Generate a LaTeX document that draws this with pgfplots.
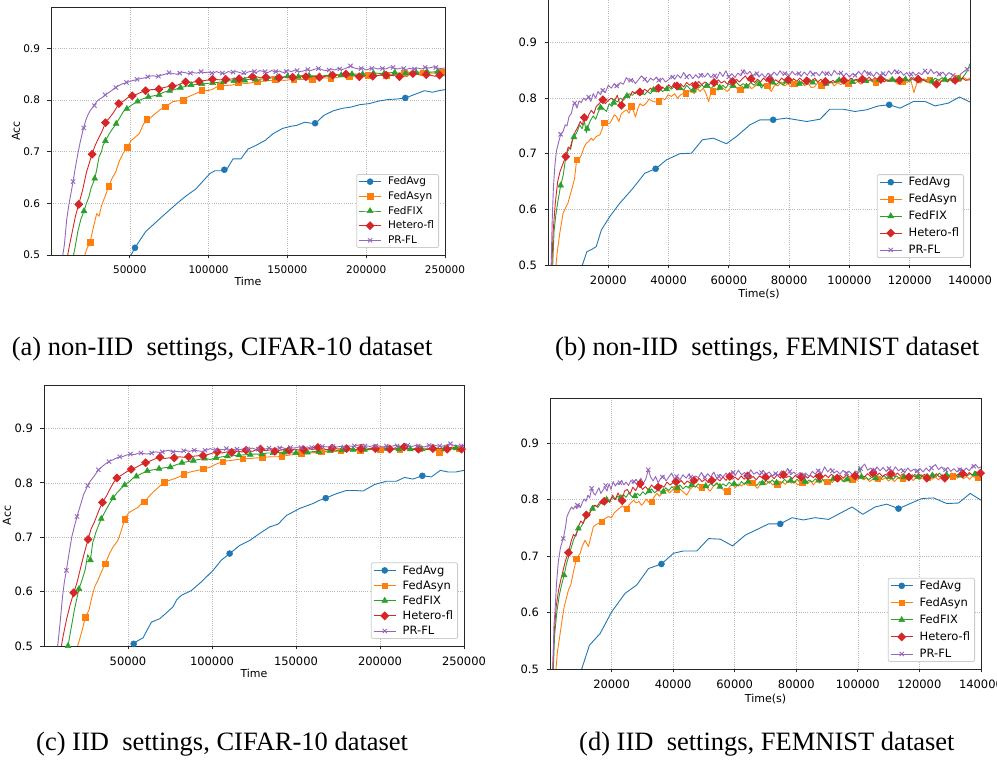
\documentclass[border=0pt]{standalone}
\usepackage{fontspec}
\setmainfont{Liberation Serif}
\newfontfamily\dejavu{DejaVu Sans}
\usepackage{pgfplots}
\pgfplotsset{compat=1.18}

\definecolor{cA}{HTML}{1F77B4}
\definecolor{cB}{HTML}{FF7F0E}
\definecolor{cC}{HTML}{2CA02C}
\definecolor{cD}{HTML}{D62728}
\definecolor{cE}{HTML}{9467BD}

\newcommand\lgt[1]{\vphantom{Afg}#1}

\pgfplotsset{
  base/.style={
    scale only axis, anchor=south west,
    xmin=0, ymin=0.5, ymax=0.98,
    scaled x ticks=false, scaled y ticks=false,
    ytick={0.5,0.6,0.7,0.8,0.9}, yticklabels={0.5,0.6,0.7,0.8,0.9},
    tick align=outside, major tick length=3.5pt,
    xtick pos=bottom, ytick pos=left,
    grid=major,
    grid style={gray!55, line width=0.6pt, dash pattern=on 0.8pt off 1.4pt},
    axis line style={black!85, line width=0.8pt},
    tick style={black!85, line width=0.8pt},
    xticklabel style={yshift=-4pt},
    yticklabel style={xshift=-4pt},
    legend cell align=left,
    legend style={at={(1,0)}, anchor=south east, xshift=-6pt, yshift=7pt,
      draw=black!20, rounded corners=2pt, line width=0.8pt,
      inner xsep=2pt, inner ysep=1.5pt,
      nodes={inner xsep=2.5pt, inner ysep=1pt},
      /tikz/every odd column/.append style={column sep=4pt}},
  },
  fs/.style={tick label style={font=\dejavu\fontsize{#1}{#1}\selectfont},
    legend style={font=\dejavu\fontsize{#1}{#1}\selectfont}},
  xl/.style 2 args={xlabel={#1},
    every axis x label/.style={at={(axis description cs:0.5,0)}, anchor=center,
      yshift=-#2, font=\dejavu\fontsize{11}{11}\selectfont}},
  yl/.style={ylabel={Acc},
    every axis y label/.style={at={([xshift=-#1]axis description cs:0,0.5)}, anchor=center,
      rotate=90, font=\dejavu\fontsize{11}{11}\selectfont}},
  ln/.style={color=#1, line width=0.9pt, line join=round, forget plot},
  mk/.style={color=#1, only marks, line width=0.9pt,
    mark options={solid, fill=#1, line width=0.5pt},
    legend image code/.code={\draw[##1, sharp plot, mark repeat=2, mark phase=2]
      plot coordinates {(0pt,0pt) (11pt,0pt) (22pt,0pt)};}},
  mA/.style={mk=cA, mark=*, mark size=3pt},
  mB/.style={mk=cB, mark=square*, mark size=2.8pt},
  mC/.style={mk=cC, mark=triangle*, mark size=3.4pt},
  mD/.style={mk=cD, mark=square*, mark size=2.7pt, mark options={rotate=45}},
  mE/.style={mk=cE, mark=x, mark size=3pt, mark options={line width=0.9pt}},
}

\begin{document}
\begin{tikzpicture}

%% ---------------- (a) non-IID, CIFAR-10 ----------------
\begin{axis}[base, fs=10.5, at={(51pt,514pt)}, width=394pt, height=248pt,
  xmax=250000, xtick={50000,100000,150000,200000,250000},
  xticklabels={50000,100000,150000,200000,250000},
  xl={Time}{26pt}, yl=35pt,
  legend style={nodes={inner ysep=1pt}, row sep=3.2pt}]
\addplot[ln=cA] coordinates {
(49000,0.49) (53300,0.514) (60000,0.545) (70000,0.573) (80000,0.600) (86000,0.615) (92000,0.628)
(97000,0.645) (101000,0.658) (104000,0.663) (108000,0.663) (112000,0.668) (115500,0.686) (120500,0.686)
(125000,0.705) (130000,0.712) (136000,0.722) (141000,0.735) (147000,0.745) (152000,0.749) (156000,0.751)
(161000,0.757) (165000,0.755) (168000,0.755) (173000,0.770) (179000,0.779) (185000,0.784) (190000,0.786)
(196000,0.791) (202000,0.793) (208000,0.798) (214000,0.801) (220000,0.802) (225000,0.804) (231000,0.811)
(237000,0.818) (242000,0.815) (246000,0.818) (250000,0.820)};
\addplot[mA] coordinates {(53300,0.514) (110000,0.665) (167600,0.755) (224800,0.804)};
\addlegendentry{\lgt{FedAvg}}
\addplot[ln=cB] coordinates {
(20500,0.490) (22500,0.510) (24800,0.525) (27000,0.555) (29000,0.580) (30500,0.575) (32000,0.595)
(34500,0.615) (36600,0.633) (39000,0.650) (41000,0.660) (43500,0.683) (46000,0.698) (48500,0.709)
(51000,0.722) (53500,0.728) (56000,0.735) (58500,0.752) (60700,0.763) (63000,0.765) (65500,0.772)
(68000,0.778) (70000,0.783) (72400,0.787) (75000,0.792) (77500,0.797) (80000,0.798) (84000,0.800)
(87000,0.806) (90000,0.810) (93000,0.814) (95700,0.819) (99000,0.818) (102000,0.820) (105000,0.825)
(107300,0.827) (111000,0.828) (115000,0.829) (119000,0.833) (124000,0.832) (131000,0.835) (137000,0.837)
(142900,0.839) (148000,0.838) (154000,0.840) (160000,0.840) (166600,0.839) (172000,0.843) (178200,0.842)
(184000,0.845) (189900,0.846) (196000,0.846) (201500,0.848) (207000,0.847) (213100,0.848) (219000,0.850)
(224800,0.852) (230000,0.851) (236400,0.853) (242000,0.852) (248000,0.854) (250000,0.855)};
\addplot[mB] coordinates {(24800,0.525) (36600,0.633) (48500,0.709) (60700,0.763) (72400,0.787)
(84000,0.800) (95700,0.819) (107300,0.827) (119000,0.833) (130700,0.835) (142400,0.839) (154100,0.840)
(165800,0.839) (177500,0.842) (189200,0.846) (200900,0.848) (212600,0.848) (224300,0.852) (236000,0.853)
(247700,0.854)};
\addlegendentry{\lgt{FedAsyn}}
\addplot[ln=cC] coordinates {
(13500,0.490) (15000,0.510) (17000,0.545) (19000,0.570) (20950,0.585) (22500,0.600) (24000,0.612)
(25500,0.630) (27700,0.647) (29000,0.665) (30500,0.690) (32000,0.700) (33000,0.712) (34500,0.721)
(36500,0.732) (38500,0.742) (40000,0.748) (41300,0.754) (43500,0.765) (46000,0.778) (48000,0.783)
(51000,0.790) (54800,0.797) (58000,0.802) (61600,0.806) (65000,0.808) (68400,0.810) (71500,0.815)
(75100,0.818) (78500,0.820) (81900,0.824) (85000,0.826) (88700,0.829) (92000,0.830) (95500,0.831)
(99000,0.832) (102200,0.833) (105500,0.834) (109000,0.835) (113000,0.837) (117000,0.837) (121000,0.838)
(126000,0.840) (131000,0.840) (136000,0.841) (141000,0.843) (146000,0.844) (151000,0.846) (156000,0.845)
(161000,0.847) (166000,0.847) (171000,0.846) (176000,0.848) (181000,0.849) (186000,0.848) (191000,0.850)
(196000,0.850) (201000,0.851) (206000,0.852) (211000,0.851) (216000,0.853) (221000,0.852) (226000,0.854)
(231000,0.853) (236000,0.855) (241000,0.854) (246000,0.855) (250000,0.853)};
\addplot[mC] coordinates {(20950,0.585) (27750,0.648) (34550,0.721) (41350,0.754) (48150,0.783)
(54950,0.797) (61750,0.806) (68550,0.810) (75350,0.818) (82150,0.824) (88950,0.829) (95750,0.831)
(102550,0.833) (109350,0.835) (116150,0.837) (122950,0.838) (129750,0.840) (136550,0.841) (143350,0.843)
(150150,0.846) (156950,0.845) (163750,0.847) (170550,0.846) (177350,0.848) (184150,0.848) (190950,0.850)
(197750,0.850) (204550,0.852) (211350,0.851) (218150,0.853) (224950,0.852) (231750,0.853) (238550,0.855)
(245350,0.855)};
\addlegendentry{\lgt{FedFIX}}
\addplot[ln=cD] coordinates {
(10000,0.490) (11500,0.515) (13500,0.545) (15500,0.575) (17600,0.598) (20000,0.625) (22500,0.660)
(24500,0.680) (26000,0.695) (28000,0.712) (30000,0.725) (32500,0.740) (34700,0.757) (37000,0.765)
(39500,0.775) (41500,0.785) (43200,0.793) (46000,0.798) (49000,0.805) (51900,0.808) (55000,0.812)
(58000,0.816) (60300,0.818) (63500,0.820) (66000,0.820) (68800,0.821) (71500,0.824) (74500,0.826)
(77500,0.827) (80500,0.829) (83500,0.833) (86100,0.835) (89500,0.834) (92000,0.836) (94600,0.836)
(98000,0.838) (100500,0.839) (103300,0.840) (107000,0.839) (111700,0.840) (116000,0.841) (120400,0.841)
(124500,0.843) (128900,0.846) (133000,0.843) (137400,0.844) (142000,0.845) (145900,0.843) (150000,0.846)
(154400,0.844) (159000,0.847) (162900,0.845) (167000,0.846) (171300,0.844) (176000,0.847) (179800,0.848)
(184000,0.848) (188300,0.850) (192500,0.848) (196800,0.845) (201000,0.847) (205200,0.846) (209500,0.849)
(213700,0.848) (218000,0.847) (222200,0.845) (226500,0.848) (230700,0.851) (235000,0.848) (239200,0.849)
(243500,0.846) (247700,0.848) (250000,0.847)};
\addplot[mD] coordinates {(17600,0.598) (26080,0.695) (34560,0.756) (43040,0.793) (51520,0.808)
(60000,0.818) (68480,0.821) (76960,0.827) (85440,0.835) (93920,0.836) (102400,0.840) (110880,0.840)
(119360,0.841) (127840,0.845) (136320,0.844) (144800,0.843) (153280,0.844) (161760,0.845) (170240,0.844)
(178720,0.848) (187200,0.850) (195680,0.845) (204160,0.846) (212640,0.848) (221120,0.845) (229600,0.851)
(238080,0.849) (246560,0.848)};
\addlegendentry{\lgt{Hetero-fl}}
\addplot[ln=cE] coordinates {
(7000,0.490) (8500,0.520) (10000,0.570) (11500,0.600) (13000,0.625) (14000,0.642) (15500,0.670)
(17000,0.695) (18500,0.718) (20500,0.744) (22000,0.760) (23500,0.772) (25000,0.780) (27000,0.788)
(29000,0.797) (31000,0.802) (33000,0.806) (35000,0.811) (37500,0.816) (40000,0.822) (42500,0.827)
(45000,0.831) (47500,0.833) (50000,0.836) (52500,0.838) (55000,0.840) (57500,0.842) (60000,0.843)
(62500,0.846) (65000,0.847) (67500,0.845) (70000,0.848) (72500,0.850) (75000,0.853) (77500,0.851)
(80000,0.850) (82500,0.854) (85000,0.853) (87500,0.851) (90000,0.853) (92500,0.852) (95000,0.855)
(97500,0.853) (100000,0.854) (102500,0.851) (105000,0.855) (107500,0.852) (110000,0.851) (112500,0.855)
(115000,0.853) (117500,0.855) (120000,0.853) (122500,0.850) (125000,0.854) (127500,0.856) (130000,0.853)
(132500,0.857) (135000,0.855) (137500,0.853) (140000,0.857) (142500,0.854) (145000,0.856) (147500,0.853)
(150000,0.857) (152500,0.855) (155000,0.858) (157500,0.855) (160000,0.856) (162500,0.859) (165000,0.857)
(167500,0.860) (170000,0.861) (172500,0.858) (175000,0.857) (177500,0.860) (180000,0.858) (182500,0.861)
(185000,0.859) (187500,0.862) (190000,0.866) (192500,0.862) (195000,0.860) (197500,0.862) (200000,0.858)
(202500,0.861) (205000,0.862) (207500,0.860) (210000,0.862) (212500,0.860) (215000,0.864) (217500,0.862)
(220000,0.860) (222500,0.862) (225000,0.859) (227500,0.861) (230000,0.860) (232500,0.862) (235000,0.860)
(237500,0.863) (240000,0.862) (242500,0.864) (245000,0.862) (247500,0.861) (250000,0.862)};
\addplot[mE] coordinates {(14000,0.642) (20770,0.746) (27540,0.789) (34310,0.810) (41080,0.824)
(47850,0.834) (54620,0.840) (61390,0.845) (68160,0.846) (74930,0.853) (81700,0.852) (88470,0.852)
(95240,0.855) (102010,0.852) (108780,0.852) (115550,0.854) (122320,0.853) (129090,0.855) (135860,0.855)
(142630,0.855) (149400,0.855) (156170,0.857) (162940,0.859) (169710,0.861) (176480,0.858) (183250,0.860)
(190020,0.866) (196790,0.861) (203560,0.861) (210330,0.861) (217100,0.863) (223870,0.861) (230640,0.860)
(237410,0.863) (244180,0.863)};
\addlegendentry{\lgt{PR-FL}}
\end{axis}

%% ---------------- (b) non-IID, FEMNIST ----------------
\begin{axis}[base, fs=11.5, at={(548pt,504pt)}, width=422pt, height=267pt,
  xmax=140000, xtick={20000,40000,60000,80000,100000,120000,140000},
  xticklabels={20000,40000,60000,80000,100000,120000,140000},
  xl={Time(s)}{29pt},
  legend style={nodes={inner ysep=1pt}, row sep=4.7pt}]
\addplot[ln=cA] coordinates {
(10500,0.490) (11400,0.500) (12900,0.524) (14500,0.528) (16000,0.533) (17700,0.563) (20500,0.587)
(23800,0.611) (28200,0.638) (32100,0.665) (35700,0.673) (39300,0.689) (43700,0.700) (47600,0.701)
(51200,0.725) (54800,0.728) (59200,0.718) (62500,0.731) (67000,0.752) (70300,0.761) (74700,0.761)
(79100,0.764) (85800,0.758) (90200,0.762) (93500,0.780) (97900,0.780) (101800,0.776) (105700,0.779)
(109600,0.786) (113200,0.788) (116800,0.782) (121200,0.794) (125100,0.794) (128400,0.786) (132800,0.791)
(136500,0.802) (140000,0.793)};
\addplot[mA] coordinates {(35700,0.673) (74700,0.761) (113200,0.788)};
\addlegendentry{\lgt{FedAvg}}
\addplot[ln=cB] coordinates {
(2500,0.490) (3000,0.520) (3900,0.557) (5000,0.593) (6000,0.605) (6600,0.611) (7300,0.625) (8100,0.640)
(8800,0.655) (9500,0.689) (10300,0.690) (11100,0.698) (12000,0.712) (12700,0.719) (13500,0.722)
(14300,0.728) (15000,0.724) (16000,0.731) (17200,0.734) (18000,0.745) (18600,0.756) (19500,0.753)
(20500,0.755) (21300,0.762) (22000,0.770) (22700,0.767) (23500,0.758) (24300,0.772) (25200,0.776)
(26000,0.779) (26900,0.773) (27800,0.785) (28500,0.775) (29000,0.766) (29800,0.781) (30500,0.790)
(31500,0.786) (32600,0.791) (33500,0.798) (34500,0.795) (35500,0.793) (36700,0.794) (37800,0.800)
(38800,0.797) (39800,0.806) (41000,0.803) (42000,0.808) (43000,0.800) (44000,0.806) (45200,0.809)
(46200,0.811) (47300,0.814) (48500,0.808) (49500,0.817) (50500,0.812) (51500,0.818) (52500,0.807)
(53300,0.794) (54200,0.812) (55300,0.818) (56500,0.814) (57500,0.821) (58500,0.816) (59500,0.812)
(60600,0.819) (61800,0.824) (63000,0.815) (64200,0.822) (65300,0.818) (66400,0.825) (67500,0.817)
(68600,0.821) (69700,0.828) (70800,0.822) (71900,0.826) (73000,0.819) (74100,0.812) (75200,0.824)
(76300,0.822) (77400,0.829) (78500,0.822) (79600,0.826) (80700,0.820) (81800,0.828) (82900,0.824)
(84000,0.830) (85100,0.822) (86200,0.827) (87300,0.819) (88400,0.820) (89500,0.828) (90600,0.823)
(91700,0.830) (92800,0.825) (93900,0.829) (95000,0.822) (96100,0.828) (97200,0.824) (98300,0.831)
(99400,0.826) (100500,0.833) (101600,0.826) (102700,0.830) (103800,0.825) (104900,0.832) (106000,0.828)
(107100,0.834) (108200,0.829) (109300,0.833) (110400,0.826) (111500,0.834) (112600,0.830) (113700,0.836)
(114800,0.831) (115900,0.826) (117000,0.824) (118100,0.832) (119200,0.828) (120300,0.834) (121400,0.810)
(122500,0.830) (123600,0.827) (124700,0.835) (125800,0.829) (126900,0.833) (128000,0.827) (129100,0.834)
(130200,0.830) (131300,0.836) (132400,0.829) (133500,0.833) (134600,0.828) (135700,0.836) (136800,0.831)
(137900,0.837) (139000,0.833) (140000,0.836)};
\addplot[mB] coordinates {(9500,0.689) (18600,0.756) (27700,0.785) (36700,0.794) (45700,0.809)
(54700,0.812) (63700,0.815) (72700,0.822) (81700,0.826) (90700,0.823) (99700,0.826) (108700,0.829)
(117700,0.830) (126700,0.833) (135700,0.836)};
\addlegendentry{\lgt{FedAsyn}}
\addplot[ln=cC] coordinates {
(1500,0.490) (2000,0.560) (2600,0.590) (3300,0.615) (4200,0.643) (5000,0.660) (5800,0.690) (6600,0.705)
(7400,0.712) (8100,0.725) (8900,0.732) (9700,0.740) (10500,0.752) (11300,0.745) (12100,0.758)
(12700,0.738) (13300,0.749) (14100,0.760) (15000,0.768) (15800,0.762) (16700,0.775) (17700,0.786)
(18600,0.780) (19400,0.776) (20300,0.790) (21200,0.785) (22100,0.797) (23000,0.793) (24000,0.800)
(25000,0.796) (26000,0.803) (27000,0.808) (28000,0.805) (29000,0.811) (30000,0.808) (31000,0.812)
(32000,0.806) (33000,0.812) (34000,0.808) (35000,0.815) (36000,0.811) (37000,0.817) (38000,0.812)
(39000,0.815) (40000,0.820) (41000,0.816) (42000,0.822) (43000,0.815) (44000,0.819) (45000,0.814)
(46000,0.823) (47000,0.817) (48000,0.813) (49000,0.821) (50000,0.818) (51000,0.824) (52000,0.819)
(53000,0.825) (54000,0.817) (55000,0.822) (56000,0.826) (57000,0.819) (58000,0.823) (59000,0.818)
(60000,0.826) (61200,0.821) (62400,0.829) (63600,0.822) (64800,0.826) (66000,0.820) (67200,0.828)
(68400,0.823) (69600,0.831) (70800,0.818) (72000,0.826) (73200,0.822) (74400,0.830) (75600,0.824)
(76800,0.829) (78000,0.823) (79200,0.832) (80400,0.826) (81600,0.830) (82800,0.822) (84000,0.829)
(85200,0.825) (86400,0.832) (87600,0.827) (88800,0.833) (90000,0.826) (91200,0.831) (92400,0.824)
(93600,0.830) (94800,0.827) (96000,0.834) (97200,0.829) (98400,0.826) (99600,0.832) (100800,0.828)
(102000,0.834) (103200,0.829) (104400,0.836) (105600,0.830) (106800,0.833) (108000,0.828) (109200,0.835)
(110400,0.831) (111600,0.836) (112800,0.830) (114000,0.834) (115200,0.829) (116400,0.836) (117600,0.831)
(118800,0.835) (120000,0.830) (121200,0.837) (122400,0.832) (123600,0.836) (124800,0.831) (126000,0.834)
(127200,0.829) (128400,0.836) (129600,0.832) (130800,0.837) (132000,0.831) (133200,0.835) (134400,0.828)
(135600,0.836) (136800,0.833) (138000,0.840) (139000,0.848) (140000,0.862)};
\addplot[mC] coordinates {(4200,0.643) (8600,0.730) (13000,0.745) (17400,0.783) (21800,0.792)
(26200,0.804) (30600,0.810) (35000,0.815) (39400,0.816) (43800,0.818) (48200,0.814) (52600,0.822)
(57000,0.819) (61400,0.822) (65800,0.821) (70200,0.825) (74600,0.828) (79000,0.830) (83400,0.826)
(87800,0.828) (92200,0.826) (96600,0.832) (101000,0.829) (105400,0.831) (109800,0.833) (114200,0.833)
(118600,0.834) (123000,0.834) (127400,0.830) (131800,0.833) (136200,0.835)};
\addlegendentry{\lgt{FedFIX}}
\addplot[ln=cD] coordinates {
(1200,0.490) (1700,0.560) (2400,0.610) (3200,0.650) (4000,0.668) (4800,0.680) (5900,0.695) (6700,0.712)
(7500,0.708) (8300,0.730) (9100,0.740) (9900,0.748) (10700,0.758) (11400,0.752) (12000,0.766)
(12800,0.760) (13600,0.771) (14400,0.778) (15200,0.772) (16000,0.785) (17000,0.790) (18000,0.798)
(19000,0.790) (20000,0.796) (21000,0.800) (22000,0.795) (23000,0.805) (24000,0.785) (25000,0.800)
(26000,0.806) (27000,0.802) (28000,0.812) (29000,0.808) (30000,0.814) (31000,0.809) (32000,0.816)
(33000,0.812) (34000,0.818) (35000,0.813) (36000,0.822) (37000,0.816) (38000,0.820) (39000,0.815)
(40000,0.824) (41000,0.819) (41900,0.828) (43000,0.821) (44000,0.826) (45000,0.820) (46000,0.828)
(47000,0.823) (47900,0.828) (49000,0.822) (50000,0.830) (51000,0.824) (52000,0.829) (53500,0.824)
(54500,0.831) (55500,0.826) (56500,0.833) (57500,0.827) (58500,0.831) (59500,0.825) (60500,0.832)
(61500,0.828) (62500,0.834) (63500,0.829) (64500,0.835) (65500,0.840) (66500,0.831) (67500,0.836)
(68500,0.828) (69500,0.834) (70500,0.829) (71500,0.836) (72500,0.830) (73500,0.835) (74500,0.827)
(75500,0.833) (76500,0.829) (77500,0.836) (78500,0.831) (79500,0.834) (80500,0.828) (81500,0.835)
(82500,0.830) (83500,0.836) (84500,0.831) (85500,0.829) (86500,0.835) (87500,0.830) (88500,0.836)
(89500,0.829) (90500,0.834) (91500,0.828) (92500,0.833) (93500,0.827) (94500,0.832) (95500,0.828)
(96500,0.834) (97500,0.829) (98500,0.835) (99500,0.830) (100500,0.836) (101500,0.831) (102500,0.834)
(103500,0.829) (104500,0.836) (105500,0.831) (106500,0.838) (107500,0.832) (108500,0.837) (109500,0.831)
(110500,0.835) (111500,0.829) (112500,0.833) (113500,0.830) (114500,0.836) (115500,0.831) (116500,0.834)
(117500,0.829) (118500,0.836) (119500,0.831) (120500,0.837) (121500,0.832) (122500,0.835) (123500,0.830)
(124500,0.834) (125500,0.829) (126500,0.833) (127500,0.826) (128500,0.826) (129500,0.824) (130500,0.830)
(131500,0.834) (132500,0.829) (133500,0.836) (134500,0.831) (135500,0.835) (136500,0.830) (137500,0.836)
(138500,0.832) (140000,0.833)};
\addplot[mD] coordinates {(5900,0.695) (12050,0.765) (18200,0.797) (24350,0.787) (30500,0.811)
(36650,0.818) (42800,0.822) (48950,0.823) (55100,0.828) (61250,0.830) (67400,0.835) (73550,0.834)
(79700,0.833) (85850,0.831) (92000,0.830) (98150,0.832) (104300,0.834) (110450,0.834) (116600,0.832)
(122750,0.834) (128900,0.825) (135050,0.832)};
\addlegendentry{\lgt{Hetero-fl}}
\addplot[ln=cE] coordinates {
(1000,0.490) (1400,0.580) (1800,0.640) (2300,0.680) (2800,0.705) (3500,0.720) (4200,0.735) (5000,0.740)
(5700,0.752) (6300,0.750) (7000,0.767) (7700,0.772) (8300,0.785) (8900,0.792) (9600,0.782) (10300,0.795)
(11000,0.792) (11800,0.800) (12600,0.796) (13400,0.803) (14200,0.794) (15000,0.808) (15800,0.800)
(16600,0.812) (17400,0.806) (18200,0.815) (19000,0.810) (20000,0.823) (21000,0.818) (22000,0.826)
(23000,0.820) (24000,0.828) (25000,0.825) (26000,0.837) (27000,0.830) (28000,0.834) (29000,0.826)
(30000,0.833) (31000,0.840) (32000,0.835) (33000,0.828) (34000,0.836) (35000,0.832) (36000,0.838)
(37000,0.830) (38000,0.836) (39000,0.829) (40000,0.833) (41000,0.840) (42000,0.834) (43000,0.842)
(44000,0.836) (45000,0.846) (46000,0.838) (47000,0.843) (48000,0.835) (49000,0.842) (50000,0.836)
(51000,0.844) (52000,0.838) (53000,0.845) (54000,0.837) (55000,0.843) (56000,0.835) (57000,0.847)
(58000,0.839) (59000,0.849) (60000,0.838) (61000,0.844) (62000,0.837) (63000,0.845) (64000,0.840)
(65000,0.851) (66000,0.843) (67000,0.848) (68000,0.840) (69000,0.846) (70000,0.838) (71000,0.844)
(72000,0.837) (73000,0.845) (74000,0.840) (75000,0.847) (76000,0.841) (77000,0.849) (78000,0.842)
(79000,0.846) (80000,0.840) (81000,0.848) (82000,0.842) (83000,0.846) (84000,0.839) (85000,0.847)
(86000,0.841) (87000,0.849) (88000,0.842) (89000,0.846) (90000,0.840) (91000,0.848) (92000,0.842)
(93000,0.847) (94000,0.840) (95000,0.850) (96000,0.843) (97000,0.846) (98000,0.839) (99000,0.845)
(100000,0.838) (101000,0.844) (102000,0.840) (103000,0.848) (104000,0.842) (105000,0.850) (106000,0.843)
(107000,0.846) (108000,0.839) (109000,0.847) (110000,0.841) (111000,0.845) (112000,0.840) (113000,0.849)
(114000,0.843) (115000,0.851) (116000,0.844) (117000,0.848) (118000,0.841) (119000,0.846) (120000,0.839)
(121000,0.847) (122000,0.841) (123000,0.846) (124000,0.842) (125000,0.850) (126000,0.843) (127000,0.852)
(128000,0.844) (129000,0.848) (130000,0.841) (131000,0.847) (132000,0.840) (133000,0.846) (134000,0.842)
(135000,0.840) (136000,0.836) (137000,0.844) (138000,0.848) (139000,0.852) (140000,0.855)};
\addplot[mE] coordinates {(4200,0.735) (8850,0.791) (13500,0.802) (18150,0.814) (22800,0.822)
(27450,0.832) (32100,0.834) (36750,0.832) (41400,0.838) (46050,0.838) (50700,0.841) (55350,0.840)
(60000,0.838) (64650,0.847) (69300,0.844) (73950,0.840) (78600,0.844) (83250,0.844) (87900,0.843)
(92550,0.844) (97200,0.845) (101850,0.841) (106500,0.844) (111150,0.844) (115800,0.847) (120450,0.843)
(125100,0.849) (129750,0.843) (134400,0.841) (139050,0.852)};
\addlegendentry{\lgt{PR-FL}}
\end{axis}

%% ---------------- (c) IID, CIFAR-10 ----------------
\begin{axis}[base, fs=11.5, at={(44pt,123pt)}, width=420pt, height=261pt,
  xmax=250000, xtick={50000,100000,150000,200000,250000},
  xticklabels={50000,100000,150000,200000,250000},
  xl={Time}{27pt}, yl=37pt,
  legend style={nodes={inner ysep=1pt}, row sep=2.9pt}]
\addplot[ln=cA] coordinates {
(50000,0.490) (53400,0.504) (56000,0.510) (59000,0.515) (61500,0.530) (64000,0.544) (68800,0.550)
(72500,0.560) (76800,0.572) (79000,0.585) (81700,0.593) (87700,0.602) (93700,0.618) (97000,0.628)
(100600,0.639) (105600,0.658) (110500,0.670) (116500,0.685) (122400,0.694) (128400,0.707) (134300,0.719)
(139300,0.724) (144300,0.740) (152200,0.753) (160100,0.762) (164000,0.768) (167700,0.772) (174000,0.780)
(180000,0.786) (185000,0.786) (189900,0.785) (196800,0.797) (203800,0.803) (209700,0.803) (214700,0.810)
(219600,0.807) (225200,0.813) (230600,0.811) (235900,0.823) (240500,0.820) (245000,0.820) (250000,0.823)};
\addplot[mA] coordinates {(53400,0.504) (110500,0.670) (167700,0.772) (225200,0.813)};
\addlegendentry{\lgt{FedAvg}}
\addplot[ln=cB] coordinates {
(19000,0.490) (21000,0.510) (22800,0.530) (24600,0.553) (26800,0.566) (28500,0.590) (30200,0.609)
(32000,0.620) (34000,0.635) (36700,0.653) (39000,0.670) (41100,0.682) (44000,0.694) (46000,0.712)
(48200,0.735) (50500,0.745) (53000,0.750) (56000,0.755) (58000,0.762) (60100,0.766) (62500,0.775)
(64900,0.783) (67500,0.790) (70000,0.797) (72000,0.802) (75000,0.805) (78000,0.808) (81000,0.812)
(83800,0.817) (87000,0.820) (90000,0.822) (93000,0.824) (95500,0.826) (99000,0.829) (102000,0.834)
(104500,0.837) (107100,0.840) (111000,0.841) (115000,0.843) (118800,0.844) (123000,0.845) (127000,0.846)
(130400,0.847) (135000,0.848) (139000,0.848) (141900,0.849) (146000,0.851) (150000,0.853) (153600,0.855)
(158000,0.855) (162000,0.856) (165300,0.857) (170000,0.857) (174000,0.858) (177000,0.859) (182000,0.859)
(186000,0.860) (188700,0.860) (193000,0.861) (197000,0.861) (200400,0.861) (205000,0.862) (209000,0.862)
(212100,0.862) (217000,0.863) (221000,0.862) (223800,0.863) (228000,0.862) (232000,0.862) (235200,0.855)
(240000,0.862) (245000,0.863) (250000,0.863)};
\addplot[mB] coordinates {(24600,0.553) (36300,0.651) (48000,0.733) (59700,0.765) (71400,0.801)
(83100,0.816) (94800,0.826) (106500,0.839) (118200,0.844) (129900,0.847) (141600,0.849) (153300,0.855)
(165000,0.857) (176700,0.859) (188400,0.860) (200100,0.861) (211800,0.862) (223500,0.863) (235200,0.856)
(246900,0.863)};
\addlegendentry{\lgt{FedAsyn}}
\addplot[ln=cC] coordinates {
(13000,0.490) (14300,0.500) (16000,0.530) (18000,0.565) (20800,0.605) (22500,0.620) (24500,0.640)
(26000,0.668) (27600,0.658) (29000,0.690) (31000,0.710) (32500,0.722) (34100,0.734) (36500,0.748)
(39000,0.762) (41100,0.772) (43500,0.782) (46000,0.790) (48000,0.796) (51000,0.803) (53000,0.809)
(55000,0.812) (58000,0.817) (61500,0.822) (65000,0.824) (68500,0.826) (72000,0.828) (75200,0.829)
(78500,0.833) (82100,0.837) (85500,0.839) (88900,0.841) (92000,0.843) (95600,0.845) (99000,0.843)
(102500,0.846) (106000,0.848) (109500,0.849) (113000,0.850) (117000,0.851) (121000,0.852) (125000,0.853)
(129000,0.853) (133000,0.855) (137000,0.855) (141000,0.856) (145000,0.856) (149000,0.855) (153000,0.857)
(157000,0.856) (161000,0.858) (165000,0.857) (169000,0.859) (173000,0.859) (177000,0.860) (181000,0.861)
(185000,0.861) (189000,0.862) (193000,0.861) (197000,0.862) (201000,0.862) (205000,0.863) (209000,0.862)
(213000,0.863) (217000,0.862) (221000,0.863) (225000,0.862) (229000,0.863) (233000,0.864) (237000,0.862)
(241000,0.863) (245000,0.864) (250000,0.863)};
\addplot[mC] coordinates {(14300,0.500) (20800,0.605) (27600,0.658) (34100,0.734) (41100,0.772)
(48000,0.796) (55000,0.812) (61500,0.822) (68500,0.826) (75200,0.829) (82100,0.837) (88900,0.841)
(95600,0.845) (102400,0.846) (109200,0.849) (116000,0.851) (122800,0.852) (129600,0.853) (136400,0.855)
(143200,0.856) (150000,0.855) (156800,0.856) (163600,0.857) (170400,0.859) (177200,0.860) (184000,0.861)
(190800,0.861) (197600,0.862) (204400,0.863) (211200,0.862) (218000,0.862) (224800,0.862) (231600,0.864)
(238400,0.862) (245200,0.864)};
\addlegendentry{\lgt{FedFIX}}
\addplot[ln=cD] coordinates {
(9800,0.490) (11500,0.520) (13500,0.550) (15500,0.575) (17700,0.598) (19500,0.615) (21500,0.640)
(23500,0.665) (26200,0.696) (28000,0.715) (30000,0.728) (32500,0.748) (34700,0.764) (37000,0.775)
(39500,0.790) (41500,0.801) (43300,0.809) (46000,0.814) (49000,0.820) (51800,0.825) (54500,0.828)
(57500,0.833) (60300,0.837) (63000,0.840) (66000,0.844) (68800,0.847) (72000,0.845) (74500,0.846)
(77400,0.846) (80500,0.848) (83500,0.847) (86100,0.848) (89000,0.849) (92000,0.850) (94600,0.850)
(97500,0.852) (100500,0.855) (103200,0.857) (106000,0.855) (109000,0.857) (111700,0.856) (115000,0.858)
(118000,0.857) (120300,0.860) (124000,0.858) (126500,0.861) (128900,0.862) (132000,0.859) (135000,0.861)
(137500,0.858) (140500,0.860) (143500,0.862) (146000,0.860) (149500,0.862) (152000,0.860) (155000,0.861)
(158000,0.863) (160000,0.861) (163500,0.866) (166500,0.862) (169000,0.861) (172000,0.865) (175000,0.862)
(178000,0.861) (180500,0.863) (184000,0.862) (186000,0.861) (189000,0.863) (192000,0.862) (195000,0.864)
(197500,0.863) (200500,0.862) (203500,0.863) (206000,0.862) (209000,0.864) (212000,0.862) (214500,0.866)
(217500,0.862) (220000,0.861) (223000,0.862) (226000,0.860) (229000,0.862) (231500,0.863) (234500,0.862)
(237500,0.864) (240000,0.862) (243000,0.866) (246000,0.863) (248500,0.862) (250000,0.862)};
\addplot[mD] coordinates {(17700,0.598) (26250,0.696) (34800,0.764) (43350,0.809) (51900,0.825)
(60450,0.837) (69000,0.847) (77550,0.846) (86100,0.848) (94650,0.850) (103200,0.857) (111750,0.856)
(120300,0.860) (128850,0.862) (137400,0.858) (145950,0.860) (154500,0.861) (163050,0.865) (171600,0.864)
(180150,0.863) (188700,0.863) (197250,0.863) (205800,0.862) (214350,0.866) (222900,0.862) (231450,0.863)
(240000,0.862) (248550,0.862)};
\addlegendentry{\lgt{Hetero-fl}}
\addplot[ln=cE] coordinates {
(7800,0.490) (9500,0.540) (11000,0.590) (12000,0.615) (13300,0.639) (15000,0.672) (16500,0.700)
(18500,0.725) (20200,0.744) (22000,0.762) (23500,0.778) (25000,0.788) (26400,0.798) (28000,0.805)
(30000,0.813) (32700,0.825) (35000,0.831) (37000,0.836) (39100,0.840) (41500,0.843) (44000,0.847)
(46500,0.848) (49000,0.851) (51500,0.853) (54000,0.852) (56500,0.855) (59000,0.854) (61500,0.853)
(64000,0.855) (66500,0.857) (69000,0.856) (71500,0.858) (74000,0.860) (76500,0.857) (79000,0.858)
(81500,0.857) (84000,0.860) (86500,0.858) (89000,0.860) (91500,0.859) (94000,0.858) (96500,0.860)
(99000,0.863) (101500,0.860) (104000,0.862) (106500,0.861) (109000,0.863) (111500,0.860) (114000,0.862)
(116500,0.861) (119000,0.863) (121500,0.862) (124000,0.864) (126500,0.861) (129000,0.863) (131500,0.862)
(134000,0.864) (136500,0.862) (139000,0.864) (141500,0.865) (144000,0.863) (146500,0.865) (149000,0.864)
(151500,0.866) (154000,0.864) (156500,0.866) (159000,0.864) (161500,0.866) (164000,0.865) (166500,0.867)
(169000,0.866) (171500,0.868) (174000,0.866) (176500,0.867) (179000,0.866) (181500,0.868) (184000,0.867)
(186500,0.869) (189000,0.871) (191500,0.868) (194000,0.867) (196500,0.869) (199000,0.868) (201500,0.866)
(204000,0.868) (206500,0.867) (209000,0.869) (211500,0.868) (214000,0.866) (216500,0.869) (219000,0.867)
(221500,0.869) (224000,0.868) (226500,0.866) (229000,0.869) (231500,0.870) (234000,0.868) (236500,0.867)
(239000,0.869) (241500,0.872) (244000,0.869) (246500,0.868) (250000,0.869)};
\addplot[mE] coordinates {(13300,0.639) (19650,0.738) (26000,0.795) (32350,0.824) (38700,0.839)
(45050,0.848) (51400,0.853) (57750,0.855) (64100,0.855) (70450,0.857) (76800,0.857) (83150,0.859)
(89500,0.860) (95850,0.860) (102200,0.861) (108550,0.863) (114900,0.862) (121250,0.862) (127600,0.862)
(133950,0.864) (140300,0.864) (146650,0.865) (153000,0.865) (159350,0.865) (165700,0.867) (172050,0.867)
(178400,0.866) (184750,0.868) (191100,0.868) (197450,0.868) (203800,0.868) (210150,0.868) (216500,0.869)
(222850,0.868) (229200,0.869) (235550,0.868) (241900,0.872) (248250,0.868)};
\addlegendentry{\lgt{PR-FL}}
\end{axis}

%% ---------------- (d) IID, FEMNIST ----------------
\begin{axis}[base, fs=11.5, at={(550pt,100pt)}, width=431pt, height=271pt,
  xmax=140000, xtick={20000,40000,60000,80000,100000,120000,140000},
  xticklabels={20000,40000,60000,80000,100000,120000,140000},
  xl={Time(s)}{30pt},
  legend style={nodes={inner ysep=1pt}, row sep=4.8pt}]
\addplot[ln=cA] coordinates {
(9800,0.490) (10300,0.500) (12800,0.542) (16300,0.563) (20000,0.601) (24400,0.634) (28200,0.649)
(32000,0.678) (36200,0.686) (40100,0.705) (43300,0.709) (47700,0.709) (51500,0.731) (55300,0.730)
(59300,0.718) (63400,0.737) (67200,0.747) (71000,0.757) (74800,0.757) (78600,0.768) (82300,0.764)
(86100,0.768) (90500,0.765) (94300,0.776) (98100,0.787) (101600,0.774) (105600,0.787) (109400,0.792)
(113200,0.784) (117000,0.793) (120800,0.802) (124600,0.803) (128900,0.793) (132700,0.794) (136500,0.811)
(140000,0.799)};
\addplot[mA] coordinates {(36200,0.686) (74800,0.757) (113200,0.784)};
\addlegendentry{\lgt{FedAvg}}
\addplot[ln=cB] coordinates {
(1800,0.490) (2400,0.530) (3300,0.563) (4000,0.590) (4600,0.610) (5300,0.625) (6000,0.640) (6800,0.650)
(7600,0.672) (8600,0.695) (9200,0.700) (9800,0.705) (10500,0.718) (11400,0.728) (12000,0.722)
(12500,0.717) (13300,0.735) (14100,0.752) (15000,0.756) (15800,0.758) (16600,0.760) (17500,0.765)
(18300,0.768) (19000,0.770) (20000,0.768) (20800,0.776) (21700,0.781) (22600,0.785) (23500,0.789)
(24700,0.783) (25600,0.790) (26400,0.795) (27100,0.799) (28000,0.794) (28900,0.797) (29700,0.790)
(30300,0.793) (31200,0.801) (32000,0.796) (32800,0.792) (33600,0.803) (34700,0.811) (35600,0.806)
(36600,0.813) (37900,0.817) (38900,0.812) (39900,0.818) (40900,0.817) (41900,0.820) (43000,0.815)
(44400,0.808) (45500,0.818) (46600,0.824) (47700,0.823) (48800,0.818) (50000,0.826) (51000,0.821)
(52000,0.815) (53000,0.823) (54000,0.828) (55000,0.824) (56000,0.819) (57200,0.813) (58200,0.822)
(59200,0.827) (60200,0.821) (61200,0.828) (62200,0.824) (63300,0.830) (64300,0.825) (65300,0.831)
(66300,0.827) (67300,0.820) (68300,0.826) (69300,0.832) (70300,0.827) (71300,0.833) (72300,0.826)
(73400,0.829) (74400,0.824) (75400,0.832) (76400,0.827) (77400,0.834) (78400,0.829) (79400,0.833)
(80400,0.826) (81600,0.829) (82600,0.835) (83600,0.828) (84600,0.833) (85600,0.826) (86600,0.834)
(87600,0.829) (88600,0.836) (89700,0.829) (90700,0.834) (91700,0.830) (92700,0.837) (93700,0.832)
(94700,0.838) (95700,0.831) (96700,0.836) (97800,0.833) (98800,0.839) (99800,0.834) (100800,0.840)
(101800,0.835) (102800,0.838) (103800,0.832) (104800,0.836) (105900,0.834) (106900,0.840) (107900,0.835)
(108900,0.839) (109900,0.833) (110900,0.837) (111900,0.832) (112900,0.838) (114000,0.836) (115000,0.841)
(116000,0.835) (117000,0.839) (118000,0.834) (119000,0.840) (120000,0.835) (121000,0.841) (122200,0.837)
(123200,0.842) (124200,0.836) (125200,0.840) (126200,0.835) (127200,0.841) (128200,0.836) (129200,0.840)
(130300,0.839) (131300,0.844) (132300,0.838) (133300,0.842) (134300,0.837) (135300,0.841) (136300,0.836)
(137300,0.842) (138400,0.838) (140000,0.841)};
\addplot[mB] coordinates {(8600,0.695) (16750,0.761) (24900,0.784) (33050,0.796) (41200,0.818)
(49350,0.822) (57500,0.815) (65650,0.830) (73800,0.827) (81950,0.831) (90100,0.832) (98250,0.836)
(106400,0.837) (114550,0.838) (122700,0.839) (130850,0.841) (139000,0.840)};
\addlegendentry{\lgt{FedAsyn}}
\addplot[ln=cC] coordinates {
(1000,0.490) (1500,0.560) (2200,0.600) (3000,0.630) (3800,0.650) (4600,0.666) (5300,0.685) (6100,0.700)
(6900,0.715) (7600,0.728) (8500,0.740) (9300,0.749) (10100,0.752) (10900,0.760) (11700,0.768)
(12500,0.775) (13300,0.780) (13900,0.784) (14700,0.790) (15500,0.786) (16400,0.793) (17300,0.797)
(18400,0.800) (19300,0.797) (20200,0.804) (21100,0.800) (22000,0.806) (22900,0.802) (23800,0.809)
(24700,0.804) (25600,0.812) (26500,0.806) (27400,0.805) (28300,0.811) (29200,0.807) (30100,0.814)
(31000,0.809) (32000,0.814) (33000,0.819) (34000,0.812) (35000,0.817) (36600,0.813) (37600,0.821)
(38600,0.816) (39600,0.823) (40600,0.818) (41200,0.820) (42200,0.826) (43200,0.819) (44200,0.824)
(45200,0.820) (46200,0.827) (47200,0.822) (48200,0.828) (49200,0.821) (50200,0.826) (51200,0.822)
(52200,0.829) (53200,0.824) (54200,0.830) (55200,0.823) (56200,0.828) (57200,0.824) (58200,0.831)
(59200,0.826) (60200,0.829) (61200,0.824) (62200,0.832) (63200,0.827) (64200,0.833) (65200,0.826)
(66200,0.830) (67200,0.825) (68200,0.832) (69200,0.828) (70200,0.834) (71200,0.829) (72200,0.835)
(73200,0.828) (74200,0.833) (75200,0.829) (76200,0.836) (77200,0.830) (78200,0.834) (79200,0.829)
(80200,0.836) (81200,0.831) (82200,0.837) (83200,0.830) (84200,0.835) (85200,0.831) (86200,0.837)
(87200,0.832) (88200,0.838) (89200,0.831) (90200,0.836) (91200,0.832) (92200,0.839) (93200,0.833)
(94200,0.838) (95200,0.832) (96200,0.839) (97200,0.834) (98200,0.840) (99200,0.835) (100500,0.858)
(101500,0.838) (102500,0.841) (103500,0.835) (104500,0.840) (105500,0.836) (106500,0.842) (107500,0.837)
(108500,0.843) (109500,0.837) (110500,0.841) (111500,0.836) (112500,0.842) (113500,0.838) (114500,0.844)
(115500,0.838) (116500,0.843) (117500,0.839) (118500,0.845) (119500,0.839) (120500,0.844) (121500,0.840)
(122500,0.846) (123500,0.840) (124500,0.845) (125500,0.841) (126500,0.847) (127500,0.841) (128500,0.846)
(129500,0.842) (130500,0.847) (131500,0.841) (132500,0.845) (133500,0.842) (134500,0.847) (135500,0.842)
(136500,0.846) (137500,0.843) (138500,0.848) (140000,0.845)};
\addplot[mC] coordinates {(4600,0.666) (9200,0.749) (13800,0.784) (18400,0.800) (23000,0.803)
(27600,0.806) (32200,0.815) (36800,0.814) (41400,0.821) (46000,0.826) (50600,0.824) (55200,0.823)
(59800,0.828) (64400,0.832) (69000,0.829) (73600,0.830) (78200,0.834) (82800,0.832) (87400,0.834)
(92000,0.837) (96600,0.836) (101200,0.840) (105800,0.838) (110400,0.840) (115000,0.840) (119600,0.840)
(124200,0.843) (128800,0.844) (133400,0.843) (138000,0.845)};
\addlegendentry{\lgt{FedFIX}}
\addplot[ln=cD] coordinates {
(800,0.490) (1300,0.560) (2000,0.610) (2800,0.640) (3600,0.660) (4400,0.678) (5200,0.695) (6000,0.706)
(6800,0.725) (7600,0.738) (8400,0.735) (9200,0.752) (10000,0.762) (10800,0.758) (11700,0.774)
(12600,0.770) (13500,0.785) (14400,0.790) (15300,0.788) (16200,0.796) (17000,0.792) (17600,0.797)
(18500,0.802) (19400,0.795) (20300,0.808) (21200,0.800) (22100,0.812) (23300,0.797) (24200,0.815)
(25100,0.818) (26000,0.810) (26900,0.822) (27800,0.816) (29000,0.829) (30000,0.818) (31000,0.823)
(32000,0.817) (33000,0.826) (34000,0.820) (34900,0.821) (36000,0.826) (37000,0.822) (38000,0.831)
(39000,0.826) (40600,0.833) (41600,0.828) (42600,0.834) (43600,0.827) (44600,0.833) (45600,0.829)
(46400,0.835) (47400,0.830) (48400,0.838) (49400,0.832) (50400,0.836) (51400,0.830) (52200,0.836)
(53200,0.831) (54200,0.838) (55200,0.833) (56200,0.840) (57200,0.834) (58100,0.842) (59100,0.836)
(60100,0.840) (61100,0.835) (62100,0.842) (63100,0.836) (64000,0.843) (65000,0.837) (66000,0.841)
(67000,0.835) (68000,0.842) (69000,0.838) (69800,0.840) (70800,0.836) (71800,0.843) (72800,0.837)
(73800,0.844) (74800,0.838) (75700,0.845) (76700,0.839) (77700,0.842) (78700,0.837) (79700,0.843)
(80700,0.838) (81600,0.840) (82600,0.845) (83600,0.838) (84600,0.843) (85600,0.839) (86600,0.845)
(87400,0.842) (88400,0.838) (89400,0.844) (90400,0.839) (91400,0.845) (92400,0.840) (93300,0.838)
(94300,0.843) (95300,0.838) (96300,0.844) (97300,0.840) (98300,0.845) (99100,0.842) (100100,0.838)
(101100,0.844) (102100,0.840) (103100,0.846) (104100,0.841) (105000,0.848) (106000,0.842) (107000,0.847)
(108000,0.841) (109000,0.845) (110000,0.840) (110800,0.846) (111800,0.841) (112800,0.847) (113800,0.842)
(114800,0.846) (115800,0.840) (116700,0.839) (117700,0.844) (118700,0.840) (119700,0.846) (120700,0.841)
(121700,0.845) (122500,0.837) (123500,0.843) (124500,0.839) (125500,0.846) (126500,0.840) (127500,0.844)
(128400,0.836) (129400,0.842) (130400,0.839) (131400,0.846) (132400,0.841) (133400,0.848) (134200,0.846)
(135200,0.842) (136200,0.848) (137200,0.843) (138200,0.850) (139200,0.846) (140000,0.848)};
\addplot[mD] coordinates {(6000,0.706) (11820,0.773) (17640,0.797) (23460,0.798) (29280,0.828)
(35100,0.822) (40920,0.832) (46740,0.834) (52560,0.834) (58380,0.841) (64200,0.842) (70020,0.840)
(75840,0.844) (81660,0.840) (87480,0.841) (93300,0.838) (99120,0.842) (104940,0.847) (110760,0.846)
(116580,0.840) (122400,0.838) (128220,0.838) (134040,0.846) (139860,0.847)};
\addlegendentry{\lgt{Hetero-fl}}
\addplot[ln=cE] coordinates {
(900,0.490) (1300,0.580) (1600,0.600) (2100,0.650) (2700,0.690) (3400,0.715) (4300,0.731) (5000,0.750)
(5500,0.770) (6000,0.776) (6500,0.782) (7000,0.787) (7600,0.783) (8200,0.789) (8700,0.784) (9300,0.792)
(9900,0.786) (10500,0.795) (11100,0.801) (11700,0.797) (12300,0.808) (12900,0.803) (13500,0.820)
(14100,0.812) (14700,0.808) (15300,0.815) (15900,0.821) (16500,0.811) (17200,0.817) (17900,0.822)
(18500,0.815) (19200,0.828) (19800,0.818) (20500,0.832) (21200,0.824) (21900,0.830) (22600,0.827)
(23300,0.834) (24000,0.826) (24700,0.831) (25500,0.825) (26300,0.834) (27100,0.829) (27900,0.836)
(28700,0.830) (29500,0.838) (30300,0.829) (31100,0.836) (31900,0.853) (32700,0.840) (33500,0.833)
(34300,0.841) (35100,0.830) (35900,0.837) (36800,0.843) (37700,0.833) (38600,0.840) (39500,0.847)
(40400,0.836) (41300,0.842) (42200,0.835) (43200,0.844) (44200,0.838) (45200,0.846) (46200,0.833)
(47200,0.842) (48200,0.839) (49200,0.848) (50200,0.838) (51200,0.846) (52200,0.840) (53200,0.849)
(54200,0.837) (55200,0.845) (56200,0.840) (57200,0.847) (58200,0.839) (59200,0.850) (60200,0.843)
(61200,0.852) (62200,0.844) (63200,0.848) (64200,0.841) (65200,0.853) (66200,0.845) (67200,0.849)
(68200,0.843) (69200,0.852) (70200,0.845) (71200,0.849) (72200,0.842) (73200,0.847) (74200,0.843)
(75200,0.851) (76200,0.846) (77200,0.855) (78200,0.844) (79200,0.849) (80200,0.843) (81200,0.848)
(82200,0.842) (83200,0.846) (84200,0.841) (85200,0.850) (86200,0.845) (87200,0.853) (88200,0.846)
(89200,0.858) (90200,0.849) (91200,0.855) (92200,0.847) (93200,0.851) (94200,0.845) (95200,0.852)
(96200,0.846) (97200,0.850) (98200,0.844) (99200,0.851) (100200,0.847) (101200,0.857) (102200,0.863)
(103200,0.852) (104200,0.856) (105200,0.849) (106200,0.858) (107200,0.851) (108200,0.857) (109200,0.850)
(110200,0.856) (111200,0.849) (112200,0.858) (113200,0.851) (114200,0.855) (115200,0.848) (116200,0.856)
(117200,0.850) (118200,0.854) (119200,0.848) (120200,0.855) (121200,0.849) (122200,0.856) (123200,0.850)
(124200,0.858) (125200,0.862) (126200,0.853) (127200,0.858) (128200,0.851) (129200,0.857) (130200,0.850)
(131200,0.855) (132200,0.849) (133200,0.856) (134200,0.850) (135200,0.856) (136200,0.851) (137200,0.859)
(138200,0.862) (139200,0.856) (140000,0.858)};
\addplot[mE] coordinates {(4300,0.731) (8900,0.790) (13500,0.820) (18100,0.825) (22700,0.830)
(27300,0.832) (31900,0.853) (36500,0.840) (41100,0.841) (45700,0.840) (50300,0.840) (54900,0.841)
(59500,0.848) (64100,0.842) (68700,0.848) (73300,0.846) (77900,0.850) (82500,0.844) (87100,0.851)
(91700,0.851) (96300,0.847) (100900,0.855) (105500,0.853) (110100,0.855) (114700,0.851) (119300,0.851)
(123900,0.856) (128500,0.853) (133100,0.853) (137700,0.859)};
\addlegendentry{\lgt{PR-FL}}
\end{axis}

%% ---------------- captions ----------------
\begin{scope}[every node/.style={anchor=base west, inner sep=0pt,
    font=\fontsize{26.5}{30}\selectfont}]
\node at (11.7pt,413pt) {(a) non-IID\ \ settings, CIFAR-10 dataset};
\node at (555pt,413pt) {(b) non-IID\ \ settings, FEMNIST dataset};
\node at (36pt,18.5pt) {(c) IID\ \ settings, CIFAR-10 dataset};
\node at (579pt,18.5pt) {(d) IID\ \ settings, FEMNIST dataset};
\end{scope}

\pgfresetboundingbox
\path[use as bounding box] (0pt,0pt) rectangle (997pt,769pt);
\end{tikzpicture}
\end{document}
